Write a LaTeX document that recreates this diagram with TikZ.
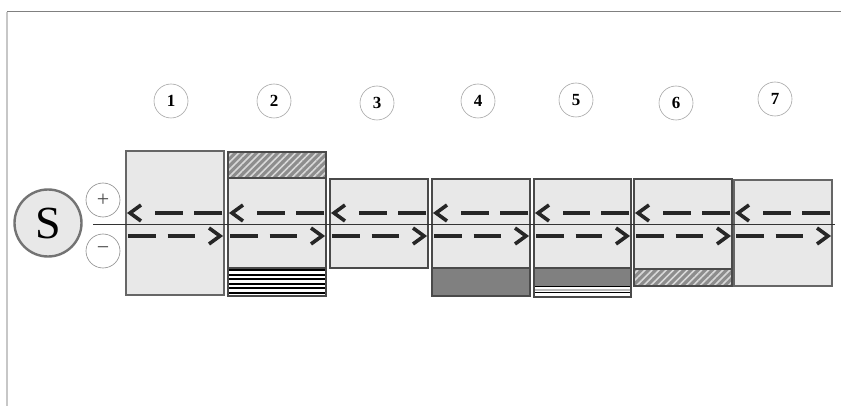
\documentclass[tikz,border=0pt]{standalone}
\usepackage{fontspec}
\setmainfont{Liberation Serif}
\usetikzlibrary{patterns.meta}
\definecolor{boxfill}{HTML}{E8E8E8}
\definecolor{boxline}{HTML}{4A4A4A}
\definecolor{darkfill}{HTML}{808080}
\definecolor{arrowcol}{HTML}{262626}
\tikzset{
  boxst/.style={fill=boxfill, draw=boxline, line width=1.2pt},
  hatchst/.style={fill=darkfill!90!white},
  hatchlines/.style={pattern={Lines[angle=45,distance=5pt,line width=1.6pt]}, pattern color=white!85!black},
  outl/.style={draw=boxline, line width=1.2pt},
  dashst/.style={draw=arrowcol, line width=3.6pt, dash pattern=on 28pt off 11.5pt},
  chev/.style={draw=arrowcol, line width=3.6pt, line join=miter, line cap=butt},
  numc/.style={circle, draw=black!35, line width=0.6pt, minimum size=34pt, inner sep=0pt, font=\fontsize{17}{17}\selectfont\bfseries},
  pmc/.style={circle, draw=black!45, line width=0.6pt, minimum size=34pt, inner sep=0pt, text=black!70, font=\fontsize{22}{22}\selectfont}
}
\begin{document}
\begin{tikzpicture}[x=1pt,y=-1pt]
\useasboundingbox (0,0) rectangle (841,406);
\fill[white] (0,0) rectangle (841,406);
% frame lines
\draw[black!22, line width=2pt] (7,12) -- (7,406);
\draw[black!50, line width=1pt] (7,12) -- (841,12);

% number circles
\node[numc] (n1) at (171,101) {1};
\node[numc] (n2) at (274,101) {2};
\node[numc] (n3) at (377,103) {3};
\node[numc] (n4) at (478,101) {4};
\node[numc] (n5) at (576,100) {5};
\node[numc] (n6) at (676,103) {6};
\node[numc] (n7) at (775,99) {7};

% source
\node[circle, fill=boxfill, draw=black!55, line width=2.4pt, minimum size=67pt, inner sep=0pt, font=\fontsize{46}{46}\selectfont] (S) at (48,223) {S};
\node[pmc] (plus) at (103,200) {+};
\node[pmc] (minus) at (103,251) {−};

% box 1
\draw[boxst, draw=black!60] (126,151) rectangle (224,295);
% box 2
\draw[boxst] (228,178) rectangle (326,268);
\fill[hatchst] (228,152) rectangle (326,178);
\fill[hatchlines] (228,152) rectangle (326,178);
\draw[outl] (228,152) rectangle (326,178);
\fill[white] (228,268) rectangle (326,296);
\foreach \yy in {270,275,279.3,284,288.3,292.7}{
  \draw[black, line width=1.7pt] (228,\yy) -- (326,\yy);
}
\draw[outl] (228,268) rectangle (326,296);
% box 3
\draw[boxst] (330,179) rectangle (428,268);
% box 4
\draw[boxst] (432,179) rectangle (530,268);
\draw[outl, fill=darkfill] (432,268) rectangle (530,296);
% box 5
\draw[boxst] (534,179) rectangle (631,268);
\fill[darkfill] (534,268) rectangle (631,286.5);
\fill[white] (534,286.5) rectangle (631,297);
\fill[boxfill!80!black] (534,289) rectangle (631,291);
\draw[black, line width=1.4pt] (534,292.5) -- (631,292.5);
\draw[black, line width=1.2pt] (534,286.5) -- (631,286.5);
\draw[outl] (534,268) rectangle (631,297);
% box 6
\draw[boxst] (634,179) rectangle (732,269);
\fill[hatchst] (634,269) rectangle (732,286);
\fill[hatchlines] (634,269) rectangle (732,286);
\draw[outl] (634,269) rectangle (732,286);
% box 7
\draw[boxst, draw=black!60] (734,180) rectangle (832,286);

% axis line
\coordinate (ls) at (93,224.3);
\coordinate (le) at (835,224.3);
\draw[black!80, line width=1pt] (ls) -- (le);

% arrows
\foreach \L/\R in {126/224,228/326,330/428,432/530,534/631,634/732,734/832}{
  % upper, leftwards
  \draw[dashst] (\R-2,213) -- (\L+29,213);
  \draw[chev] (\L+15,205) -- (\L+4,213) -- (\L+15,221);
  % lower, rightwards
  \draw[dashst] (\L+2,236) -- (\R-29,236);
  \draw[chev] (\R-15,228) -- (\R-4,236) -- (\R-15,244);
}
\end{tikzpicture}
\end{document}
